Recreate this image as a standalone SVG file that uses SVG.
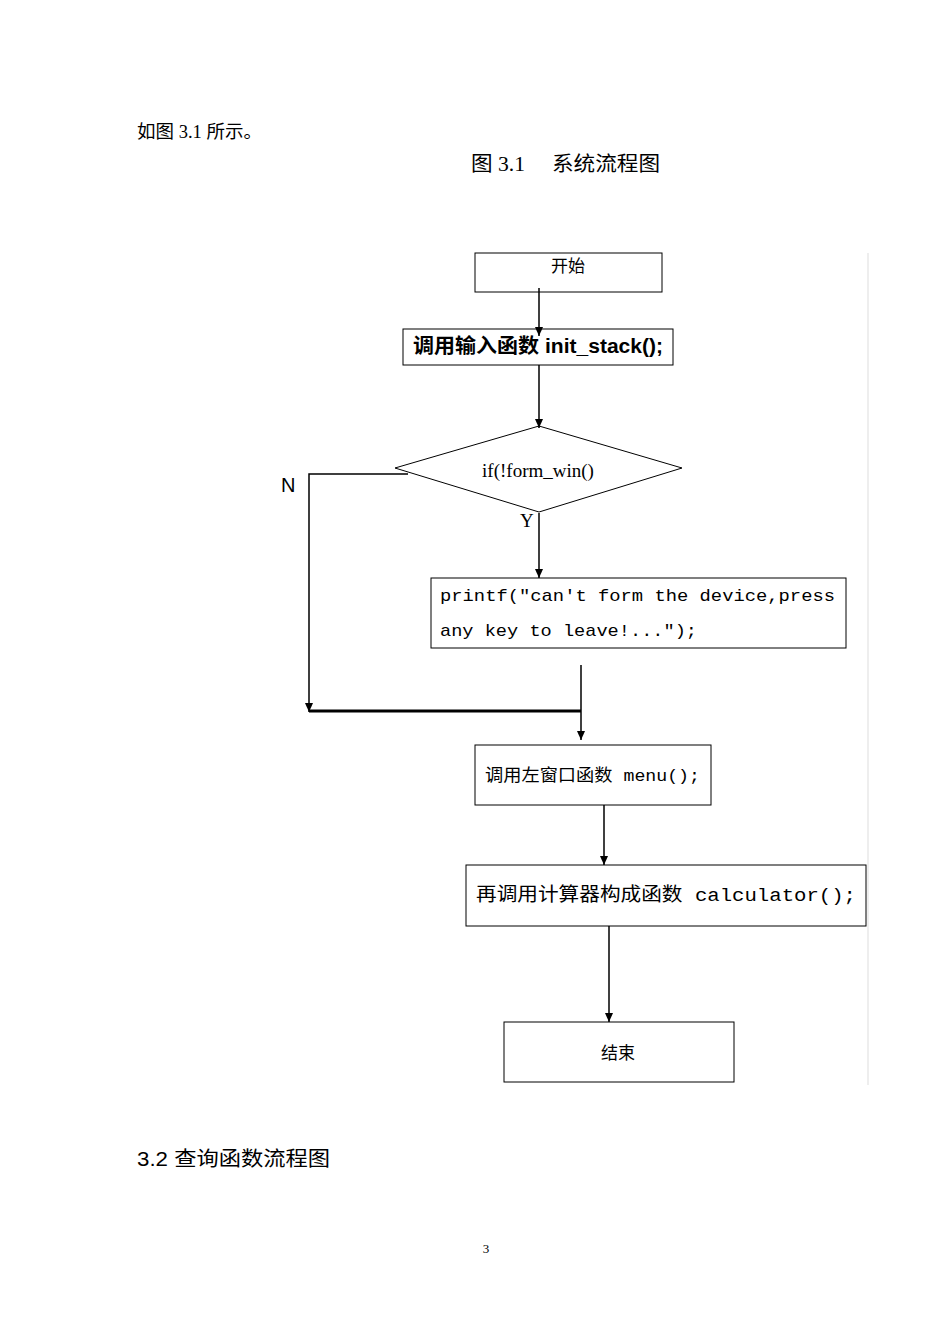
<svg xmlns="http://www.w3.org/2000/svg" width="950" height="1344" viewBox="0 0 950 1344">
<style>
.b{fill:#fff;stroke:#000;stroke-width:1}
.c{stroke:#000;stroke-width:1.5;fill:none}
.s{font-family:"Liberation Serif","Noto Sans CJK SC",serif}
.a{font-family:"Liberation Sans","Noto Sans CJK SC",sans-serif}
.m{font-family:"Liberation Mono","Noto Sans CJK SC",monospace}
</style>
<defs><marker id="ar" markerWidth="10" markerHeight="10" refX="9" refY="5" orient="auto" markerUnits="userSpaceOnUse"><path d="M0,1 L9,5 L0,9 Z" fill="#000"/></marker></defs>
<rect width="950" height="1344" fill="#fff"/>
<text class="s" x="137" y="138" font-size="18" textLength="125" lengthAdjust="spacingAndGlyphs">如图 3.1 所示。</text>
<text class="s" x="471" y="171" font-size="20" textLength="189" lengthAdjust="spacingAndGlyphs">图 3.1　 系统流程图</text>
<line x1="868" y1="253" x2="868" y2="1085" stroke="#ddd" stroke-width="1"/>
<g id="start"><rect class="b" x="475" y="253" width="187" height="39"/><text class="s" x="568" y="272" font-size="17" text-anchor="middle">开始</text></g>
<g id="init"><rect class="b" x="403" y="329" width="270" height="36"/><text class="a" x="413" y="353" font-size="20" font-weight="bold" textLength="250" lengthAdjust="spacingAndGlyphs">调用输入函数 init_stack();</text></g>
<g id="decision"><polygon class="b" points="395,468 539,426 682,468 539,512"/><text class="s" x="538" y="477" font-size="19" text-anchor="middle">if(!form_win()</text></g>
<g id="printf"><rect class="b" x="431" y="578" width="415" height="70"/><text class="m" x="440" y="601" font-size="17" textLength="395" lengthAdjust="spacingAndGlyphs">printf("can't form the device,press</text><text class="m" x="440" y="636" font-size="17" textLength="257" lengthAdjust="spacingAndGlyphs">any key to leave!...");</text></g>
<g id="menu"><rect class="b" x="475" y="745" width="236" height="60"/><text class="m" x="485" y="781" font-size="17" textLength="215" lengthAdjust="spacingAndGlyphs">调用左窗口函数 menu();</text></g>
<g id="calc"><rect class="b" x="466" y="865" width="400" height="61"/><text class="m" x="476" y="901" font-size="19" textLength="380" lengthAdjust="spacingAndGlyphs">再调用计算器构成函数 calculator();</text></g>
<g id="end"><rect class="b" x="504" y="1022" width="230" height="60"/><text class="a" x="618" y="1059" font-size="17" text-anchor="middle">结束</text></g>
<g id="connectors">
<line class="c" x1="539" y1="288" x2="539" y2="336" marker-end="url(#ar)"/>
<line class="c" x1="539" y1="365" x2="539" y2="428" marker-end="url(#ar)"/>
<polyline class="c" points="408,474 309,474 309,712" marker-end="url(#ar)"/>
<line class="c" x1="539" y1="513" x2="539" y2="578" marker-end="url(#ar)"/>
<line class="c" x1="581" y1="665" x2="581" y2="740" marker-end="url(#ar)"/>
<line x1="309" y1="711" x2="581" y2="711" stroke="#000" stroke-width="3"/>
<line class="c" x1="604" y1="805" x2="604" y2="865" marker-end="url(#ar)"/>
<line class="c" x1="609" y1="926" x2="609" y2="1022" marker-end="url(#ar)"/>
<text class="a" x="281" y="492" font-size="20">N</text>
<text class="s" x="520" y="527" font-size="19">Y</text>
</g>
<text class="a" x="137" y="1166" font-size="20" textLength="193" lengthAdjust="spacingAndGlyphs">3.2 查询函数流程图</text>
<text class="s" x="486" y="1253" font-size="13" text-anchor="middle">3</text>
</svg>
